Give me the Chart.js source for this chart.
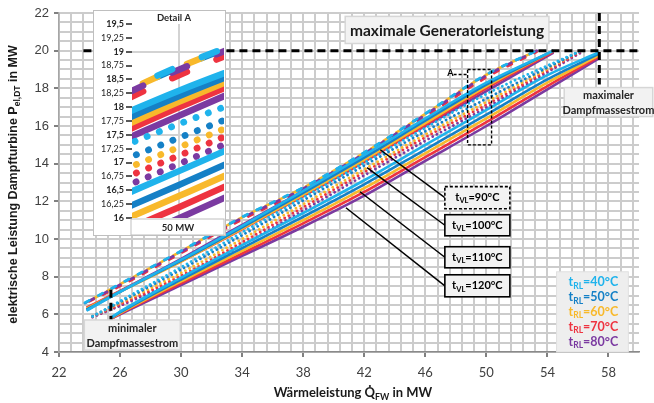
<!DOCTYPE html>
<html>
<head>
<meta charset="utf-8">
<script src="https://cdn.jsdelivr.net/npm/chart.js@4.4.1/dist/chart.umd.min.js"></script>
<style>
  body { margin: 0; background: #fff; }
  #wrap { position: relative; width: 654px; height: 403px; }
  #detailBox { position: absolute; left: 93px; top: 10px; width: 131px; height: 224px; background: #fff; border: 1px solid #bfbfbf; }
</style>
</head>
<body>
<div id="wrap">
  <canvas id="main" width="654" height="403"></canvas>
  <div id="detailBox"><canvas id="detail" width="131" height="224"></canvas></div>
</div>
<script>
// Rücklauftemperaturen (Farben) und Vorlauftemperaturen (Linienstil)
const tRL = ['40', '50', '60', '70', '80'];
const tVL = ['90', '100', '110', '120'];
const rlColors = ['#1fb3ec', '#1580c6', '#f8b92b', '#ee3340', '#7b3aa1'];

// Achsen
const xTickLabels = [22, 26, 30, 34, 38, 42, 46, 50, 54, 58];
const yTickLabels = [4, 6, 8, 10, 12, 14, 16, 18, 20, 22];

// tVL = 90 °C (gestrichelt)
const x90 = [23.7, 26, 30, 34, 38, 42, 46, 50, 53.3];
const lb90 = [6.62, 7.62, 9.37, 11.17, 12.74, 14.6, 16.66, 18.74, 20.0];
const bl90 = [6.6, 7.6, 9.35, 11.15, 12.72, 14.58, 16.64, 18.72, 20.0];
const ye90 = [6.6, 7.6, 9.35, 11.15, 12.72, 14.58, 16.64, 18.72, 20.0];
const rd90 = [6.57, 7.5, 9.25, 11.03, 12.6, 14.45, 16.5, 18.58, 19.94];
const pu90 = [6.6, 7.57, 9.32, 11.12, 12.68, 14.54, 16.6, 18.68, 20.0];

// tVL = 100 °C (durchgezogen)
const x100 = [23.8, 26, 30, 34, 38, 42, 46, 50, 54.4];
const lb100 = [6.2, 7.2, 8.9, 10.7, 12.55, 14.45, 16.4, 18.3, 20.0];
const bl100 = [6.25, 7.2, 8.85, 10.62, 12.45, 14.32, 16.28, 18.2, 20.0];
const ye100 = [6.3, 7.2, 8.8, 10.55, 12.35, 14.2, 16.15, 18.1, 20.0];
const rd100 = [6.35, 7.25, 8.82, 10.52, 12.28, 14.1, 16.05, 18.0, 19.95];
const pu100 = [6.22, 7.22, 8.95, 10.75, 12.55, 14.35, 16.0, 17.85, 19.9];

// tVL = 110 °C (gepunktet)
const x110 = [24.2, 26, 30, 34, 38, 42, 46, 50, 56.2];
const lb110 = [5.88, 6.7, 8.5, 10.35, 12.2, 14.05, 15.9, 17.7, 20.0];
const bl110 = [5.9, 6.65, 8.38, 10.2, 12.05, 13.9, 15.72, 17.45, 20.0];
const ye110 = [5.9, 6.6, 8.2, 10.0, 11.85, 13.7, 15.55, 17.28, 20.0];
const rd110 = [5.87, 6.52, 8.05, 9.83, 11.68, 13.55, 15.4, 17.13, 19.95];
const pu110 = [5.85, 6.45, 7.92, 9.68, 11.52, 13.38, 15.22, 16.98, 19.9];

// tVL = 120 °C (durchgezogen)
const x120 = [25.4, 26, 30, 34, 38, 42, 46, 50, 54, 57.4];
const lb120 = [5.82, 6.14, 7.95, 9.68, 11.38, 13.12, 15.0, 16.85, 18.7, 19.92];
const bl120 = [5.8, 6.1, 7.85, 9.52, 11.18, 12.9, 14.75, 16.6, 18.48, 19.84];
const ye120 = [5.78, 6.06, 7.75, 9.37, 11.0, 12.7, 14.55, 16.4, 18.3, 19.76];
const rd120 = [5.76, 6.03, 7.65, 9.23, 10.83, 12.5, 14.35, 16.2, 18.12, 19.68];
const pu120 = [5.75, 6.0, 7.55, 9.1, 10.65, 12.3, 14.15, 16.0, 17.95, 19.6];

// Grenzen
const maxPower = 20;
const maxFlowX = 57.4;
const minFlowX = 25.4;

const groups = [
  { vl: '120', style: 'solid', xs: x120, ys: [lb120, bl120, ye120, rd120, pu120] },
  { vl: '110', style: 'dot', xs: x110, ys: [lb110, bl110, ye110, rd110, pu110] },
  { vl: '100', style: 'solid', xs: x100, ys: [lb100, bl100, ye100, rd100, pu100] },
  { vl: '90', style: 'dash', xs: x90, ys: [lb90, bl90, ye90, rd90, pu90] }
];

const FONT = 'Lato, "Open Sans", sans-serif';
const ARIAL = '"Liberation Sans", Arial, sans-serif';

function buildSets(big) {
  const sets = [];
  const w = big ? 6.5 : 2.6;
  groups.forEach(g => {
    const order = g.style === 'dash' ? [0, 4, 3, 2, 1] : [0, 1, 2, 3, 4];
    const phase = [0, 0, 1, 2, 2];
    order.forEach(i => {
      const ds = {
        label: 'tVL=' + g.vl + ' tRL=' + tRL[i],
        data: g.xs.map((x, k) => ({ x: x, y: g.ys[i][k] })),
        borderColor: rlColors[i],
        borderWidth: w,
        pointRadius: 0,
        fill: false,
        cubicInterpolationMode: 'monotone',
        borderCapStyle: 'round'
      };
      if (g.style === 'dash') {
        const d = big ? 16 : 5;
        ds.borderDash = [d, 2 * d];
        ds.borderDashOffset = phase[i] * d;
      } else if (g.style === 'dot') {
        ds.borderDash = [0.1, big ? 13 : 4.6];
        ds.borderWidth = big ? 6.8 : 2.8;
      } else {
        ds.borderCapStyle = 'butt';
      }
      sets.push(ds);
    });
  });
  return sets;
}

// Text mit Tiefstellung, z.B. t_VL
function richText(ctx, parts, cx, cy, size, color, family) {
  const fam = family || FONT;
  ctx.fillStyle = color;
  ctx.textBaseline = 'middle';
  ctx.textAlign = 'left';
  const fnt = p => 'bold ' + (p[1] ? size * 0.68 : size) + 'px ' + fam;
  let w = 0;
  parts.forEach(p => { ctx.font = fnt(p); w += ctx.measureText(p[0]).width; });
  let px = cx - w / 2;
  parts.forEach(p => {
    ctx.font = fnt(p);
    ctx.fillText(p[0], px, cy + (p[1] ? size * 0.3 : 0));
    px += ctx.measureText(p[0]).width;
  });
}

// Beschriftungen (Positionen in Achsenwerten)
const titleBox = { x0: 40.75, x1: 54.1, y0: 21.82, y1: 20.38, text: 'maximale Generatorleistung' };
const maxFlowBox = { x0: 55.1, x1: 60.9, y0: 18.04, y1: 16.5, lines: ['maximaler', 'Dampfmassestrom'] };
const minFlowBox = { x0: 23.66, x1: 29.95, y0: 5.7, y1: 4.1, lines: ['minimaler', 'Dampfmassestrom'] };
const vlBoxes = [
  { vl: '90', x0: 47.28, x1: 51.54, y0: 12.78, y1: 11.61, dashed: true, from: [43.05, 14.74] },
  { vl: '100', x0: 47.28, x1: 51.54, y0: 11.29, y1: 10.17, dashed: false, from: [42.18, 13.79] },
  { vl: '110', x0: 47.28, x1: 51.54, y0: 9.59, y1: 8.47, dashed: false, from: [41.72, 12.51] },
  { vl: '120', x0: 47.28, x1: 51.54, y0: 8.1, y1: 6.93, dashed: false, from: [40.8, 11.66] }
];
const legendBox = { x0: 54.6, x1: 59.3, y0: 8.26, y1: 4.0 };
const detailA = { x0: 48.77, x1: 50.34, y0: 19.0, y1: 15.0 };

const overlay = {
  id: 'overlay',
  afterDatasetsDraw(chart) {
    const ctx = chart.ctx;
    const X = v => chart.scales.x.getPixelForValue(v);
    const Y = v => chart.scales.y.getPixelForValue(v);
    const line = (a, b, c, d) => { ctx.beginPath(); ctx.moveTo(a, b); ctx.lineTo(c, d); ctx.stroke(); };
    const rect = (b, fill, stroke, lw, dash) => {
      const x = X(b.x0), y = Y(b.y0), w = X(b.x1) - X(b.x0), h = Y(b.y1) - Y(b.y0);
      ctx.setLineDash(dash || []);
      ctx.fillStyle = fill; ctx.fillRect(x, y, w, h);
      ctx.strokeStyle = stroke; ctx.lineWidth = lw; ctx.strokeRect(x, y, w, h);
      ctx.setLineDash([]);
    };
    ctx.save();

    // Grenzlinien
    ctx.strokeStyle = '#000';
    ctx.lineWidth = 3;
    ctx.setLineDash([8, 5]);
    line(X(23.6), Y(maxPower), X(60), Y(maxPower));
    line(X(maxFlowX), Y(22), X(maxFlowX), Y(18.2));
    line(X(minFlowX), Y(7.3), X(minFlowX), Y(5.7));
    ctx.setLineDash([]);

    // Detail A
    ctx.lineWidth = 1.4;
    ctx.setLineDash([3, 2]);
    ctx.strokeRect(X(detailA.x0), Y(detailA.y0), X(detailA.x1) - X(detailA.x0), Y(detailA.y1) - Y(detailA.y0));
    line(X(detailA.x0) - 14, Y(detailA.y0) + 5, X(detailA.x0), Y(detailA.y0) + 5);
    ctx.setLineDash([]);
    ctx.fillStyle = '#000';
    ctx.font = 'bold 9px ' + FONT;
    ctx.textAlign = 'right'; ctx.textBaseline = 'middle';
    ctx.fillText('A', X(detailA.x0) - 14, Y(detailA.y0) + 4);

    // Titelbox
    rect(titleBox, '#f2f2f2', '#d6d6d6', 1.5);
    ctx.fillStyle = '#1a1a1a';
    ctx.font = 'bold 15.5px ' + FONT;
    ctx.textAlign = 'center'; ctx.textBaseline = 'middle';
    ctx.fillText(titleBox.text, (X(titleBox.x0) + X(titleBox.x1)) / 2, (Y(titleBox.y0) + Y(titleBox.y1)) / 2 + 1);

    // Dampfmassestrom-Boxen
    [maxFlowBox, minFlowBox].forEach(b => {
      rect(b, '#f2f2f2', '#d6d6d6', 1.5);
      ctx.fillStyle = '#262626';
      ctx.font = 'bold 11px ' + FONT;
      ctx.textAlign = 'center'; ctx.textBaseline = 'middle';
      const cx = (X(b.x0) + X(b.x1)) / 2, cy = (Y(b.y0) + Y(b.y1)) / 2;
      ctx.fillText(b.lines[0], cx, cy - 7);
      ctx.fillText(b.lines[1], cx, cy + 8);
    });

    // tVL Boxen mit Hinweislinien
    vlBoxes.forEach(b => {
      ctx.strokeStyle = '#000'; ctx.lineWidth = 1.5;
      line(X(b.from[0]), Y(b.from[1]), X(b.x0), (Y(b.y0) + Y(b.y1)) / 2);
      rect(b, '#f2f2f2', '#000', 1.6, b.dashed ? [3, 2] : null);
      richText(ctx, [['t'], ['VL', true], ['=' + b.vl + '°C']], (X(b.x0) + X(b.x1)) / 2, (Y(b.y0) + Y(b.y1)) / 2, 11, '#000');
    });

    // Legende tRL
    rect(legendBox, '#eeeeee', '#e0e0e0', 1);
    const ly0 = Y(legendBox.y0), lh = Y(legendBox.y1) - ly0;
    tRL.forEach((t, i) => {
      richText(ctx, [['t'], ['RL', true], ['=' + t + '°C']], (X(legendBox.x0) + X(legendBox.x1)) / 2 + 1, ly0 + lh * (0.13 + i * 0.185), 12.5, rlColors[i]);
    });
    ctx.restore();
  },
  afterDraw(chart) {
    const ctx = chart.ctx;
    const a = chart.chartArea;
    ctx.save();
    richText(ctx, [['Wärmeleistung Q\u0307'], ['FW', true], [' in MW']], (a.left + a.right) / 2 + 4, 393, 13, '#1a1a1a');
    ctx.translate(14, (a.top + a.bottom) / 2 + 2);
    ctx.rotate(-Math.PI / 2);
    richText(ctx, [['elektrische Leistung Dampfturbine P'], ['el,DT', true], [' in MW']], 0, 0, 12.5, '#1a1a1a', ARIAL);
    ctx.restore();
  }
};

const near = (v, list) => list.some(t => Math.abs(t - v) < 1e-6);

new Chart(document.getElementById('main'), {
  type: 'line',
  data: { datasets: buildSets(false) },
  options: {
    responsive: false,
    animation: false,
    layout: { padding: { top: 13, right: 15, left: 0, bottom: 0 } },
    plugins: { legend: { display: false }, tooltip: { enabled: false } },
    scales: {
      x: {
        type: 'linear', min: 22, max: 60,
        afterBuildTicks: s => {
          const t = [];
          for (let k = 0; k <= 47; k++) t.push({ value: Math.round((22 + 0.8 * k) * 100) / 100 });
          s.ticks = t;
        },
        afterFit: s => { s.height = 51; },
        ticks: {
          autoSkip: false, maxRotation: 0, padding: 8, color: '#404040',
          font: { family: FONT, size: 13 },
          callback: v => near(v, xTickLabels) ? String(v) : ''
        },
        grid: {
          color: '#cccccc', lineWidth: 2, tickLength: 5,
          tickColor: c => c.tick && near(c.tick.value, xTickLabels) ? '#808080' : 'rgba(0,0,0,0)'
        },
        border: { color: '#8a8a8a', width: 1.5 }
      },
      y: {
        type: 'linear', min: 4, max: 22,
        afterFit: s => { s.width = 59; },
        ticks: {
          stepSize: 0.5, autoSkip: false, padding: 5, color: '#404040',
          font: { family: ARIAL, size: 13 },
          callback: v => near(v, yTickLabels) ? String(v) : ''
        },
        grid: {
          color: '#cccccc', lineWidth: 2, tickLength: 5,
          tickColor: c => c.tick && near(c.tick.value, yTickLabels) ? '#808080' : 'rgba(0,0,0,0)'
        },
        border: { color: '#a6a6a6', width: 1.5 }
      }
    }
  },
  plugins: [overlay]
});

// Detail A (Ausschnitt um 50 MW)
const detailX = [49.2, 50.75];
const detailY = [16, 19.5];
const detailGrid = [17.5, 19];

const detailPlugin = {
  id: 'detailText',
  afterDraw(chart) {
    const ctx = chart.ctx;
    const a = chart.chartArea;
    ctx.save();
    ctx.fillStyle = '#262626';
    ctx.font = 'bold 9.5px ' + FONT;
    ctx.textAlign = 'center'; ctx.textBaseline = 'middle';
    ctx.fillText('Detail A', (a.left + a.right) / 2 - 4, 7);
    ctx.fillStyle = '#fff';
    ctx.strokeStyle = '#bfbfbf'; ctx.lineWidth = 1;
    ctx.fillRect(a.left - 1, a.bottom + 1, chart.width - a.left, 16);
    ctx.strokeRect(a.left - 1, a.bottom + 1, chart.width - a.left, 16);
    ctx.fillStyle = '#262626';
    ctx.font = 'bold 9.5px ' + FONT;
    ctx.fillText('50 MW', (a.left + a.right) / 2, a.bottom + 9.5);
    ctx.restore();
  }
};

new Chart(document.getElementById('detail'), {
  type: 'line',
  data: { datasets: buildSets(true) },
  options: {
    responsive: false,
    animation: false,
    layout: { padding: { top: 13, right: 1, left: 0, bottom: 17 } },
    plugins: { legend: { display: false }, tooltip: { enabled: false } },
    scales: {
      x: {
        type: 'linear', min: detailX[0], max: detailX[1],
        afterBuildTicks: s => { s.ticks = [{ value: 50 }]; },
        afterFit: s => { s.height = 0; },
        ticks: { display: false },
        grid: { color: '#d3d3d3', lineWidth: 2, drawTicks: false },
        border: { display: false }
      },
      y: {
        type: 'linear', min: detailY[0], max: detailY[1],
        afterFit: s => { s.width = 38; },
        ticks: {
          stepSize: 0.25, autoSkip: false, padding: 2, color: '#262626',
          font: c => ({ family: FONT, size: 9, weight: c.tick && (c.tick.value * 2) % 1 === 0 ? 'bold' : 'normal' }),
          callback: v => String(v).replace('.', ',')
        },
        grid: {
          lineWidth: 2, tickLength: 6, tickColor: '#595959',
          color: c => c.tick && near(c.tick.value, detailGrid) ? '#d3d3d3' : 'rgba(0,0,0,0)'
        },
        border: { display: false }
      }
    }
  },
  plugins: [detailPlugin]
});
</script>
</body>
</html>
